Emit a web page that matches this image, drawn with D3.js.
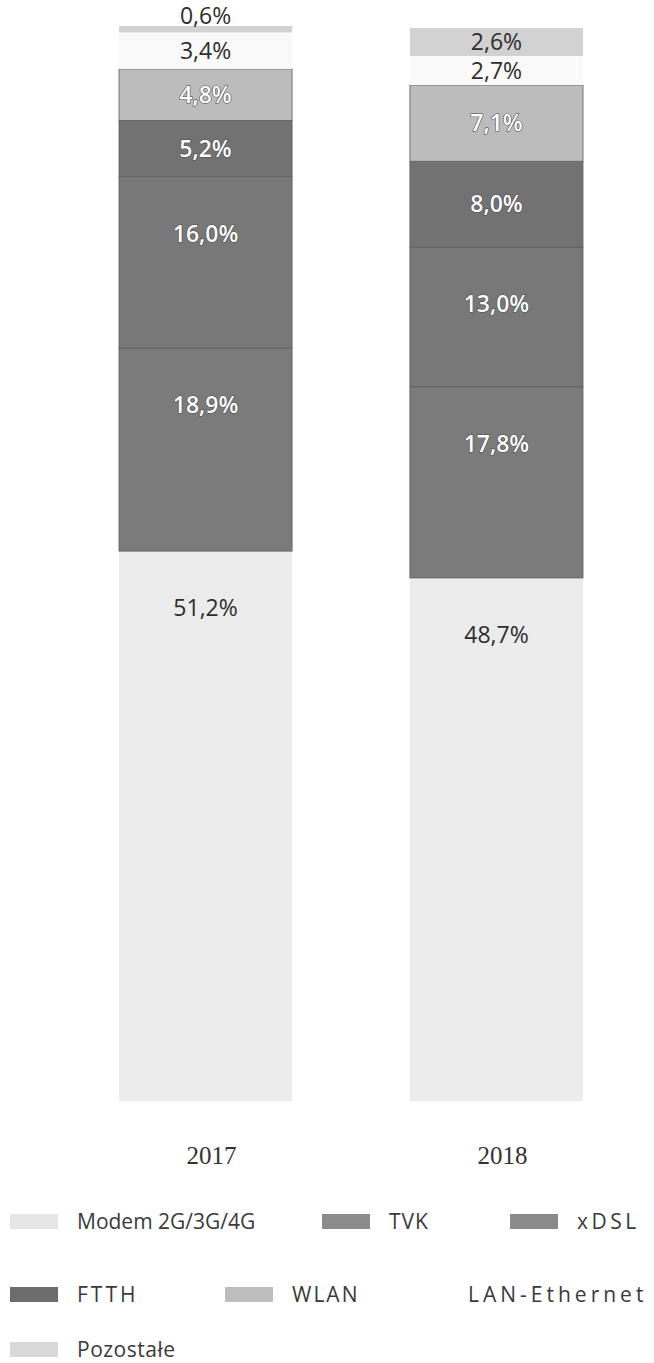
<!DOCTYPE html>
<html><head><meta charset="utf-8">
<script src="https://cdn.jsdelivr.net/npm/d3@7"></script>
<style>html,body{margin:0;padding:0;background:#fff;}svg{display:block;}</style>
</head><body>
<svg id="chart" width="654" height="1363"></svg>
<script>
const years = ["2017", "2018"];
const seriesNames = ["Modem 2G/3G/4G", "TVK", "xDSL", "FTTH", "WLAN", "LAN-Ethernet", "Pozostałe"];
const values2017 = [51.2, 18.9, 16.0, 5.2, 4.8, 3.4, 0.6];
const values2018 = [48.7, 17.8, 13.0, 8.0, 7.1, 2.7, 2.6];
const colors = ["#ececec", "#7b7b7b", "#787878", "#727272", "#bcbcbc", "#f9f9f9", "#d2d2d2"];
const darkSeg = [false, true, true, true, true, false, false];
const legendSwatch = ["#e6e6e6", "#8c8c8c", "#8a8a8a", "#6c6c6c", "#bdbdbd", "#ffffff", "#d8d8d8"];

const svg = d3.select("#chart");
const xs = d3.scaleBand().domain(years).range([119, 583]).paddingInner(0.405).paddingOuter(0);
const y = d3.scaleLinear().domain([0, 100]).range([1101, 27]);

const rows = years.map((yr, i) => {
  const vals = i === 0 ? values2017 : values2018;
  const obj = {year: yr};
  seriesNames.forEach((s, j) => obj[s] = vals[j]);
  return obj;
});
const stack = d3.stack().keys(seriesNames)(rows);

const fmt = v => v.toFixed(1).replace(".", ",") + "%";

stack.forEach((layer, j) => {
  layer.forEach(d => {
    const yr = d.data.year;
    const x0 = xs(yr), w = xs.bandwidth();
    const top = y(d[1]), bot = y(d[0]);
    svg.append("rect")
      .attr("x", x0).attr("y", top).attr("width", w).attr("height", bot - top)
      .attr("fill", colors[j])
      .attr("stroke", darkSeg[j] ? "#5e5e5e" : "none").attr("stroke-width", darkSeg[j] ? 0.8 : 0);
  });
});

stack.forEach((layer, j) => {
  layer.forEach(d => {
    const yr = d.data.year;
    const v = d[1] - d[0];
    const top = y(d[1]), bot = y(d[0]);
    const h = bot - top;
    let cy;
    if (v < 1.5) cy = top - 10;
    else cy = top + Math.min(h / 2, 57);
    const t = svg.append("text")
      .attr("x", xs(yr) + xs.bandwidth() / 2)
      .attr("y", cy)
      .attr("dy", "0.36em")
      .attr("text-anchor", "middle")
      .attr("font-family", "'Open Sans', sans-serif")
      .attr("font-size", 23)
      .text(fmt(d.data[seriesNames[j]]));
    if (darkSeg[j]) {
      t.attr("fill", "#ffffff").attr("stroke", "#4a4a4a").attr("stroke-width", 1.2)
       .attr("paint-order", "stroke").attr("font-weight", 600);
    } else {
      t.attr("fill", "#2e2e2e");
    }
  });
});

// x axis labels
const xAxis = d3.axisBottom(xs).tickSize(0).tickPadding(0);
const gx = svg.append("g").attr("transform", "translate(6,1146)").call(xAxis);
gx.select(".domain").remove();
gx.selectAll("text").attr("font-family", "'Liberation Serif', 'DejaVu Serif', serif")
  .attr("font-size", 25).attr("fill", "#333");

// legend
const legendPos = [[10, 1222], [322, 1222], [510, 1222], [10, 1295], [225, 1295], [401, 1295], [10, 1350]];
const legendSpacing = [0, 1, 3.5, 3, 2, 4, 0.5];
seriesNames.forEach((s, j) => {
  const [lx, ly] = legendPos[j];
  svg.append("rect").attr("x", lx).attr("y", ly - 8).attr("width", 48).attr("height", 15)
    .attr("fill", legendSwatch[j]);
  svg.append("text").attr("x", lx + 67).attr("y", ly).attr("dy", "0.35em")
    .attr("font-family", "'Open Sans', sans-serif").attr("font-size", 21)
    .attr("letter-spacing", legendSpacing[j])
    .attr("fill", "#3a3a3a").text(s);
});
</script>
</body></html>
